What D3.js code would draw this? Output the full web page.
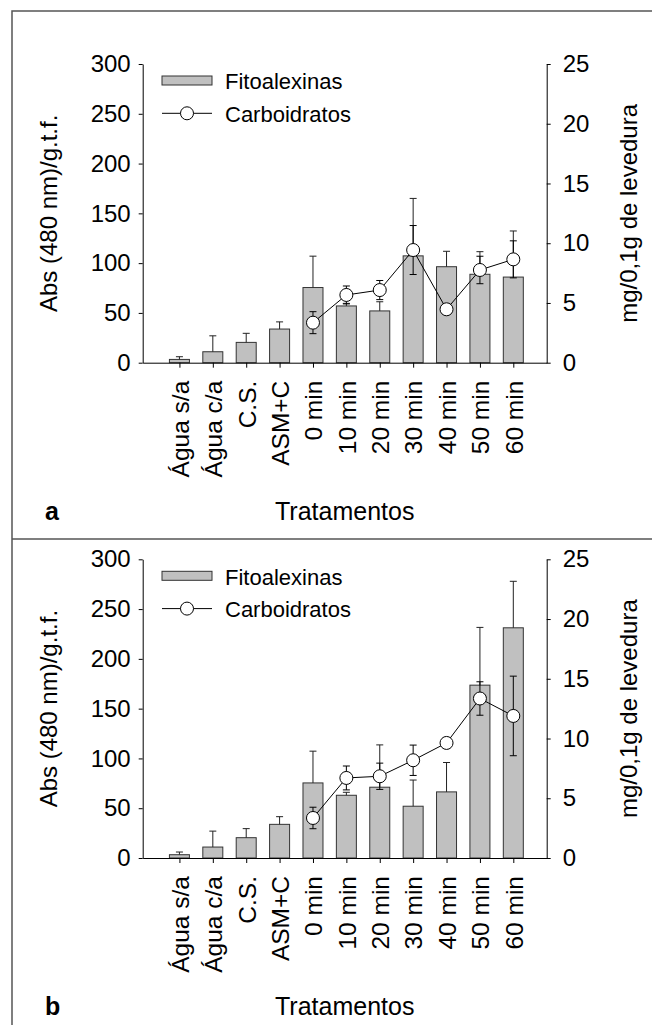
<!DOCTYPE html>
<html>
<head>
<meta charset="utf-8">
<script src="https://cdn.jsdelivr.net/npm/d3@7"></script>
<style>
  body { margin: 0; background: #fff; }
  svg { display: block; font-family: "Liberation Sans", Arial, sans-serif; }
  .tick text { font-size: 24px; fill: #000; }
  .xaxis .tick text { font-size: 24.5px; }
  .domain, .tick line { stroke: #000; stroke-width: 1; }
</style>
</head>
<body>
<svg width="652" height="1025"></svg>
<script>
var categories = ["Água s/a", "Água c/a", "C.S.", "ASM+C", "0 min", "10 min", "20 min", "30 min", "40 min", "50 min", "60 min"];
var leftTicks = [0, 50, 100, 150, 200, 250, 300];
var rightTicks = [0, 5, 10, 15, 20, 25];

// panel a
var fitoA    = [3.3, 11, 20.4, 33.8, 75.5, 57, 52, 107.3, 96.4, 88.8, 86];
var fitoAErr = [2.7, 16, 9.1, 7.2, 31.5, 2.6, 9.2, 57.7, 15.5, 22.7, 46.3];
var carbA    = [null, null, null, null, 3.35, 5.67, 6.08, 9.43, 4.47, 7.76, 8.65];
var carbAErr = [null, null, null, null, 0.92, 0.75, 0.8, 2.05, 0.3, 1.15, 1.55];

// panel b
var fitoB    = [3.3, 11, 20.4, 33.8, 75.4, 63, 71.1, 52, 66.4, 173.6, 231.2];
var fitoBErr = [2.7, 16, 9.1, 7.7, 31.9, 3, 42.5, 26.3, 29.5, 58, 46.7];
var carbB    = [null, null, null, null, 3.35, 6.7, 6.84, 8.18, 9.63, 13.35, 11.89];
var carbBErr = [null, null, null, null, 0.9, 1.0, 1.1, 1.27, 0.3, 1.4, 3.33];

var svg = d3.select("svg");

var LEFT = 142.7, RIGHT = 546.7, PLOT_H = 298.7;
var BAR_W = 20, CAP = 3.5, R = 6.5;

// frame lines
svg.append("path")
  .attr("d", "M12,1025V11H652M12,539H652")
  .attr("fill", "none").attr("stroke", "#555").attr("stroke-width", 1.5);

function drawPanel(top, fito, fitoErr, carb, carbErr, letter) {
  var g = svg.append("g").attr("transform", "translate(0," + top + ")");

  var x = d3.scaleLinear().domain([-1.1, 11]).range([LEFT, RIGHT]);
  var yL = d3.scaleLinear().domain([0, 300]).range([PLOT_H, 0]);
  var yR = d3.scaleLinear().domain([0, 25]).range([PLOT_H, 0]);

  // bars
  g.append("g").selectAll("rect").data(fito).join("rect")
    .attr("x", function(d, i) { return x(i) - BAR_W / 2; })
    .attr("y", function(d) { return yL(d); })
    .attr("width", BAR_W)
    .attr("height", function(d) { return yL(0) - yL(d); })
    .attr("fill", "#c0c0c0").attr("stroke", "#333").attr("stroke-width", 1);

  // bar error bars (upward only)
  var be = g.append("g").attr("stroke", "#222").attr("stroke-width", 1);
  fito.forEach(function(d, i) {
    var y0 = yL(d), y1 = yL(d + fitoErr[i]);
    be.append("line").attr("x1", x(i)).attr("x2", x(i)).attr("y1", y0).attr("y2", y1);
    be.append("line").attr("x1", x(i) - CAP).attr("x2", x(i) + CAP).attr("y1", y1).attr("y2", y1);
  });

  // carbohydrate error bars
  var pts = carb.map(function(d, i) { return {i: i, v: d, e: carbErr[i]}; })
    .filter(function(d) { return d.v !== null; });
  var ce = g.append("g").attr("stroke", "#000").attr("stroke-width", 1);
  pts.forEach(function(p) {
    var yt = yR(p.v + p.e), yb = yR(p.v - p.e);
    ce.append("line").attr("x1", x(p.i)).attr("x2", x(p.i)).attr("y1", yt).attr("y2", yb);
    ce.append("line").attr("x1", x(p.i) - CAP).attr("x2", x(p.i) + CAP).attr("y1", yt).attr("y2", yt);
    ce.append("line").attr("x1", x(p.i) - CAP).attr("x2", x(p.i) + CAP).attr("y1", yb).attr("y2", yb);
  });

  var line = d3.line().x(function(d) { return x(d.i); }).y(function(d) { return yR(d.v); });
  g.append("path").datum(pts).attr("d", line)
    .attr("fill", "none").attr("stroke", "#000").attr("stroke-width", 1);

  g.append("g").selectAll("circle").data(pts).join("circle")
    .attr("cx", function(d) { return x(d.i); })
    .attr("cy", function(d) { return yR(d.v); })
    .attr("r", R)
    .attr("fill", "#fff").attr("stroke", "#000").attr("stroke-width", 1);

  // axes
  g.append("g").attr("transform", "translate(" + LEFT + ",0)")
    .call(d3.axisLeft(yL).tickValues(leftTicks).tickSize(4).tickSizeOuter(0).tickPadding(8));
  g.append("g").attr("transform", "translate(" + RIGHT + ",0)")
    .call(d3.axisRight(yR).tickValues(rightTicks).tickSize(4).tickSizeOuter(0).tickPadding(12));

  var xa = g.append("g").attr("class", "xaxis").attr("transform", "translate(0," + PLOT_H + ")")
    .call(d3.axisBottom(x).tickValues(d3.range(categories.length))
      .tickFormat(function(i) { return categories[i]; }).tickSize(5).tickSizeOuter(0));
  xa.selectAll(".tick text")
    .attr("transform", "rotate(-90)")
    .attr("text-anchor", "end")
    .attr("x", -18).attr("y", 0).attr("dy", "0.36em");

  // titles
  g.append("text")
    .attr("transform", "translate(57," + (PLOT_H / 2) + ") rotate(-90)")
    .attr("text-anchor", "middle").style("font-size", "24px")
    .text("Abs (480 nm)/g.t.f.");
  g.append("text")
    .attr("transform", "translate(637," + (PLOT_H / 2) + ") rotate(-90)")
    .attr("text-anchor", "middle").style("font-size", "24px")
    .text("mg/0,1g de levedura");
  g.append("text")
    .attr("x", (LEFT + RIGHT) / 2).attr("y", 456)
    .attr("text-anchor", "middle").style("font-size", "25px")
    .text("Tratamentos");
  g.append("text")
    .attr("x", 45).attr("y", 456)
    .style("font-size", "25px").style("font-weight", "bold")
    .text(letter);

  // legend
  var lg = g.append("g");
  lg.append("rect").attr("x", 162).attr("y", 12).attr("width", 50).attr("height", 9)
    .attr("fill", "#c0c0c0").attr("stroke", "#333");
  lg.append("text").attr("x", 225).attr("y", 25.3).style("font-size", "22px").text("Fitoalexinas");
  lg.append("line").attr("x1", 162).attr("x2", 212).attr("y1", 49.3).attr("y2", 49.3)
    .attr("stroke", "#000");
  lg.append("circle").attr("cx", 187).attr("cy", 49.3).attr("r", R)
    .attr("fill", "#fff").attr("stroke", "#000");
  lg.append("text").attr("x", 225).attr("y", 57.7).style("font-size", "22px").text("Carboidratos");
}

drawPanel(64, fitoA, fitoAErr, carbA, carbAErr, "a");
drawPanel(559.3, fitoB, fitoBErr, carbB, carbBErr, "b");
</script>
</body>
</html>
